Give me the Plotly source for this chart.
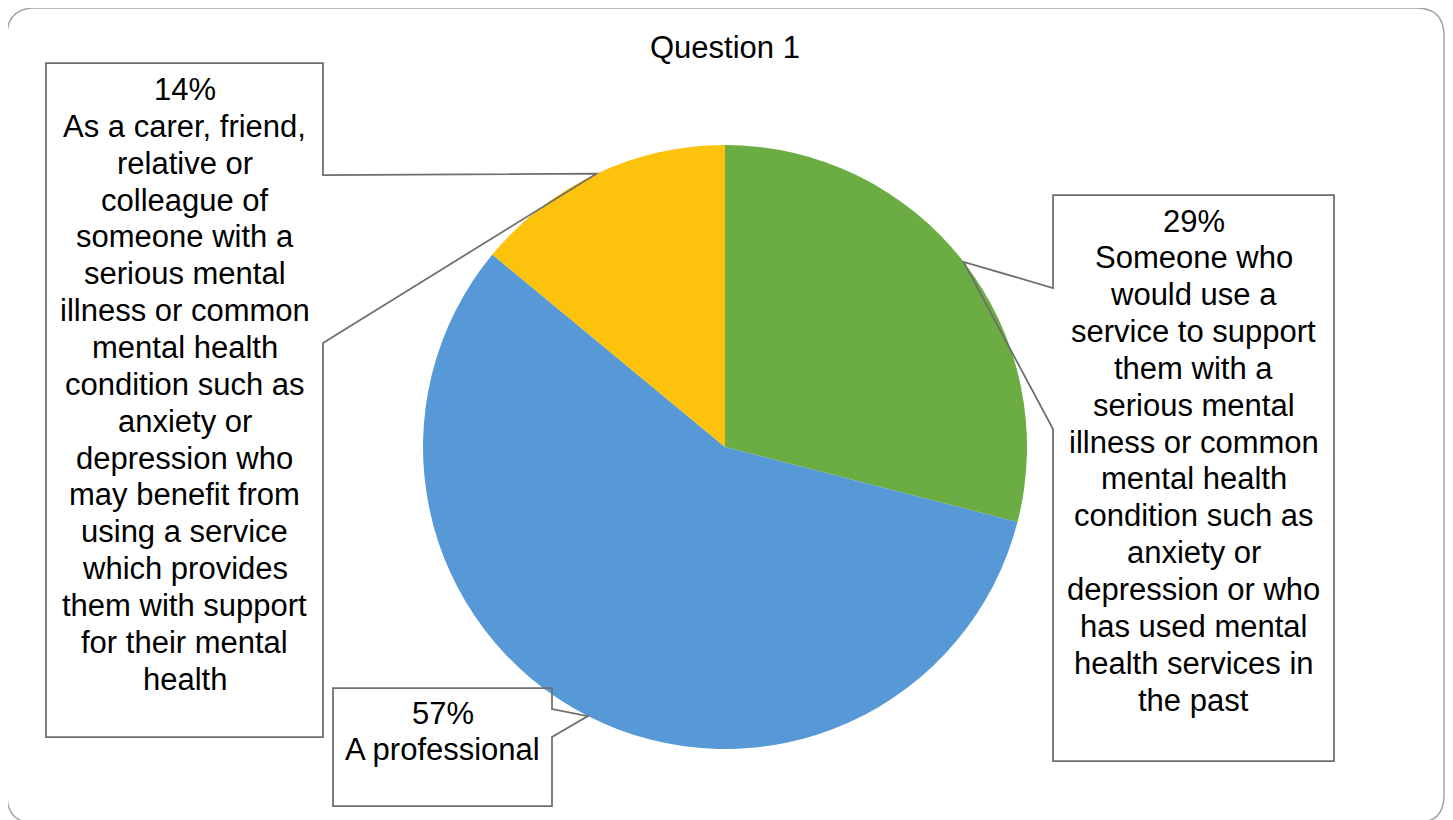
import math
import plotly.graph_objects as go

# ---------------- data ----------------
title_text = "Question 1"
categories = [
    "Someone who would use a service to support them with a serious mental illness or common mental health condition such as anxiety or depression or who has used mental health services in the past",
    "A professional",
    "As a carer, friend, relative or colleague of someone with a serious mental illness or common mental health condition such as anxiety or depression who may benefit from using a service which provides them with support for their mental health",
]
values = [29, 57, 14]
slice_colors = ["#6cad43", "#5799d6", "#fcc20c"]
label_lines = [
    ["Someone who", "would use a", "service to support", "them with a", "serious mental",
     "illness or common", "mental health", "condition such as", "anxiety or",
     "depression or who", "has used mental", "health services in", "the past"],
    ["A professional"],
    ["As a carer, friend,", "relative or", "colleague of", "someone with a", "serious mental",
     "illness or common", "mental health", "condition such as", "anxiety or",
     "depression who", "may benefit from", "using a service", "which provides",
     "them with support", "for their mental", "health"],
]

# ---------------- layout constants (screen pixels) ----------------
W, H = 1453, 820
OFF = 8  # page body margin: figure origin sits at (8, 8) on screen
CX, CY, R = 725, 447, 302
FONT = "Arial, Liberation Sans, sans-serif"
FS = 31
LINE_H = 36.85
# callout boxes: x0, x1, y0, y1, pointer side, pointer base a, pointer base b, first text line y
boxes = [
    dict(x0=1053, x1=1334, y0=195, y1=761, side="left", pa=288, pb=429, ty=221),
    dict(x0=333, x1=552, y0=688, y1=806, side="right", pa=709, pb=737, ty=713),
    dict(x0=46, x1=323, y0=63, y1=737, side="right", pa=175, pb=343, ty=89.5),
]

fig = go.Figure()
fig.add_trace(go.Pie(
    values=values,
    labels=categories,
    sort=False,
    direction="clockwise",
    rotation=0,
    textinfo="none",
    hoverinfo="label+percent",
    showlegend=False,
    marker=dict(colors=slice_colors, line=dict(width=0)),
    domain=dict(x=[(CX - OFF - R) / W, (CX - OFF + R) / W],
                y=[1 - (CY - OFF + R) / H, 1 - (CY - OFF - R) / H]),
))

shapes = []
annotations = []

# outer rounded frame
fx0, fx1, fy0, fy1, rr = 7, 1444, 8, 823, 28
frame = (f"M {fx0+rr} {fy0} L {fx1-rr} {fy0} Q {fx1} {fy0} {fx1} {fy0+rr} "
         f"L {fx1} {fy1-rr} Q {fx1} {fy1} {fx1-rr} {fy1} "
         f"L {fx0+rr} {fy1} Q {fx0} {fy1} {fx0} {fy1-rr} "
         f"L {fx0} {fy0+rr} Q {fx0} {fy0} {fx0+rr} {fy0} Z")
shapes.append(dict(type="path", path=frame, xref="x", yref="y",
                   line=dict(color="#a6a6a6", width=1.5), fillcolor="rgba(0,0,0,0)", layer="below"))

total = sum(values)
start = 0.0
for v, lines, b in zip(values, label_lines, boxes):
    mid = (start + v / 2) / total * 2 * math.pi
    start += v
    tx = CX + R * math.sin(mid)
    ty = CY - R * math.cos(mid)
    x0, x1, y0, y1 = b["x0"], b["x1"], b["y0"], b["y1"]
    if b["side"] == "right":
        p = (f"M {x0} {y0} L {x1} {y0} L {x1} {b['pa']} L {tx:.1f} {ty:.1f} "
             f"L {x1} {b['pb']} L {x1} {y1} L {x0} {y1} Z")
    else:
        p = (f"M {x0} {y0} L {x1} {y0} L {x1} {y1} L {x0} {y1} L {x0} {b['pb']} "
             f"L {tx:.1f} {ty:.1f} L {x0} {b['pa']} Z")
    shapes.append(dict(type="path", path=p, xref="x", yref="y",
                       line=dict(color="#6e6e6e", width=1.75), fillcolor="rgba(0,0,0,0)", layer="above"))
    texts = [f"{v}%"] + lines
    xc = (x0 + x1) / 2
    for i, t in enumerate(texts):
        annotations.append(dict(text=t, x=xc, y=b["ty"] + i * LINE_H, xref="x", yref="y",
                                showarrow=False, xanchor="center", yanchor="middle",
                                font=dict(family=FONT, size=FS, color="#000000")))

annotations.append(dict(text=title_text, x=CX, y=47, xref="x", yref="y", showarrow=False,
                        xanchor="center", yanchor="middle",
                        font=dict(family=FONT, size=FS, color="#000000")))

fig.update_layout(
    width=W, height=H,
    margin=dict(l=0, r=0, t=0, b=0),
    paper_bgcolor="white", plot_bgcolor="rgba(0,0,0,0)",
    xaxis=dict(range=[OFF, W + OFF], visible=False, fixedrange=True),
    yaxis=dict(range=[H + OFF, OFF], visible=False, fixedrange=True),
    shapes=shapes,
    annotations=annotations,
)

fig.write_html("out.html")
